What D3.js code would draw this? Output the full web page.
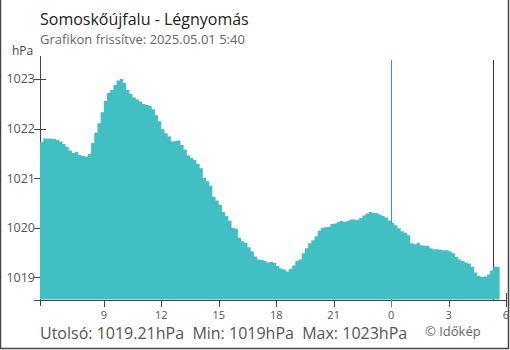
<!DOCTYPE html>
<html>
<head>
<meta charset="utf-8">
<script src="https://cdn.jsdelivr.net/npm/d3@7"></script>
<style>
  body { margin: 0; background: #fff; }
  svg { display: block; font-family: "Open Sans", sans-serif; }
</style>
</head>
<body>
<div id="chart"></div>
<script>
// Légnyomás, 10 perces lépések 2025.04.30 5:40-tól
const startTime = new Date(2025, 3, 30, 5, 40);
const endTime = new Date(2025, 4, 1, 6, 0);
const stepMinutes = 10;

const pressure = [
  1021.73, 1021.80, 1021.80, 1021.80, 1021.79, 1021.77, 1021.74, 1021.69, 1021.63, 1021.56,
  1021.51, 1021.53, 1021.47, 1021.45, 1021.44, 1021.49, 1021.71, 1021.92, 1022.11, 1022.33,
  1022.56, 1022.72, 1022.78, 1022.88, 1022.97, 1023.00, 1022.92, 1022.78, 1022.70, 1022.63,
  1022.59, 1022.55, 1022.50, 1022.48, 1022.46, 1022.39, 1022.27, 1022.15, 1021.99, 1021.91,
  1021.84, 1021.74, 1021.75, 1021.76, 1021.67, 1021.58, 1021.46, 1021.41, 1021.37, 1021.29,
  1021.20, 1021.01, 1020.94, 1020.85, 1020.62, 1020.55, 1020.46, 1020.32, 1020.24, 1020.14,
  1020.00, 1019.98, 1019.80, 1019.73, 1019.70, 1019.61, 1019.53, 1019.42, 1019.36, 1019.35,
  1019.33, 1019.30, 1019.31, 1019.29, 1019.23, 1019.18, 1019.16, 1019.12, 1019.17, 1019.24,
  1019.33, 1019.36, 1019.49, 1019.59, 1019.69, 1019.75, 1019.83, 1019.94, 1020.00, 1020.01,
  1020.02, 1020.08, 1020.09, 1020.12, 1020.14, 1020.12, 1020.14, 1020.17, 1020.17, 1020.16,
  1020.20, 1020.25, 1020.29, 1020.32, 1020.30, 1020.30, 1020.27, 1020.24, 1020.21, 1020.15,
  1020.10, 1020.05, 1019.99, 1019.93, 1019.90, 1019.85, 1019.69, 1019.67, 1019.70, 1019.65,
  1019.64, 1019.64, 1019.59, 1019.57, 1019.57, 1019.56, 1019.55, 1019.55, 1019.53, 1019.49,
  1019.41, 1019.36, 1019.33, 1019.30, 1019.28, 1019.21, 1019.10, 1019.03, 1019.01, 1019.02,
  1019.06, 1019.14, 1019.22, 1019.21
];

const yTicks = [1019, 1020, 1021, 1022, 1023];
const xTickHours = [9, 12, 15, 18, 21, 0, 3, 6];
const midnight = new Date(2025, 4, 1, 0, 0);
const nowLine = new Date(2025, 4, 1, 5, 20);

const title = 'Somoskőújfalu - Légnyomás';
const subtitle = 'Grafikon frissítve: 2025.05.01 5:40';
const stats = 'Utolsó: 1019.21hPa  Min: 1019hPa  Max: 1023hPa';

const width = 510;
const height = 350;

const data = pressure.map((v, i) => ({
  t: new Date(startTime.getTime() + i * stepMinutes * 60000),
  v: v
}));
// a lépcső utolsó fokának lezárása
data.push({ t: new Date(startTime.getTime() + pressure.length * stepMinutes * 60000), v: pressure[pressure.length - 1] });

const svg = d3.select('#chart')
  .append('svg')
  .attr('width', width)
  .attr('height', height);

const x = d3.scaleTime()
  .domain([startTime, endTime])
  .range([40, 506]);

const y = d3.scaleLinear()
  .domain([1018.545, 1023.385])
  .range([300, 60]);

// keret
svg.append('path')
  .attr('d', 'M0.5,0 V348.5 H508.5 V0')
  .attr('fill', 'none')
  .attr('stroke', '#444')
  .attr('stroke-width', 1.5);

// címek
svg.append('text')
  .attr('x', 40).attr('y', 25)
  .attr('font-size', 16)
  .attr('fill', '#222')
  .text(title);

svg.append('text')
  .attr('x', 40).attr('y', 44)
  .attr('font-size', 13)
  .attr('fill', '#666')
  .text(subtitle);

svg.append('text')
  .attr('x', 12).attr('y', 55)
  .attr('font-size', 12)
  .attr('fill', '#444')
  .text('hPa');

// y tengely
const yAxis = svg.append('g');
yAxis.append('line')
  .attr('x1', 40.5).attr('x2', 40.5)
  .attr('y1', 56).attr('y2', 300)
  .attr('stroke', '#444');
yAxis.selectAll('line.tick')
  .data(yTicks)
  .enter().append('line')
  .attr('class', 'tick')
  .attr('x1', 34).attr('x2', 46)
  .attr('y1', d => Math.round(y(d)) + 0.5)
  .attr('y2', d => Math.round(y(d)) + 0.5)
  .attr('stroke', '#444');
yAxis.selectAll('text')
  .data(yTicks)
  .enter().append('text')
  .attr('x', 35)
  .attr('y', d => y(d))
  .attr('dy', '0.35em')
  .attr('text-anchor', 'end')
  .attr('font-size', 12.5)
  .attr('fill', '#555')
  .text(d => d);

// függőleges jelzővonalak (a kitöltés alatt)
svg.append('line')
  .attr('x1', Math.round(x(midnight)) + 0.5).attr('x2', Math.round(x(midnight)) + 0.5)
  .attr('y1', 60).attr('y2', 307)
  .attr('stroke', '#3a8fd0');
svg.append('line')
  .attr('x1', Math.round(x(nowLine)) + 0.5).attr('x2', Math.round(x(nowLine)) + 0.5)
  .attr('y1', 60).attr('y2', 300)
  .attr('stroke', '#333');

// légnyomás kitöltés
const area = d3.area()
  .curve(d3.curveStepAfter)
  .x(d => x(d.t))
  .y0(299.5)
  .y1(d => y(d.v));

svg.append('path')
  .datum(data)
  .attr('d', area)
  .attr('fill', '#40c0c2');

// x tengely
const xAxis = svg.append('g');
xAxis.append('line')
  .attr('x1', 34).attr('x2', 506)
  .attr('y1', 300.5).attr('y2', 300.5)
  .attr('stroke', '#444');

const xTicks = xTickHours.map((h, i) => {
  const day = i < 5 ? 30 : 1;
  const month = i < 5 ? 3 : 4;
  return new Date(2025, month, day, h, 0);
});

xAxis.append('line')
  .attr('x1', 40.5).attr('x2', 40.5)
  .attr('y1', 300).attr('y2', 306)
  .attr('stroke', '#444');

xAxis.selectAll('line.tick')
  .data(xTicks)
  .enter().append('line')
  .attr('class', 'tick')
  .attr('x1', d => Math.round(x(d)) + 0.5)
  .attr('x2', d => Math.round(x(d)) + 0.5)
  .attr('y1', (d, i) => i === xTicks.length - 1 ? 293 : 300)
  .attr('y2', 307)
  .attr('stroke', d => d.getTime() === midnight.getTime() ? '#3a8fd0' : '#444');

xAxis.selectAll('text')
  .data(xTicks)
  .enter().append('text')
  .attr('x', d => x(d))
  .attr('y', 319)
  .attr('text-anchor', 'middle')
  .attr('font-size', 11)
  .attr('fill', '#555')
  .text(d => d.getHours());

// alsó összesítés
svg.append('text')
  .attr('x', 40).attr('y', 339)
  .attr('font-size', 16)
  .attr('fill', '#555')
  .style('white-space', 'pre')
  .text(stats);

svg.append('text')
  .attr('x', 425).attr('y', 336)
  .attr('font-size', 13)
  .attr('fill', '#666')
  .text('© Időkép');
</script>
</body>
</html>
